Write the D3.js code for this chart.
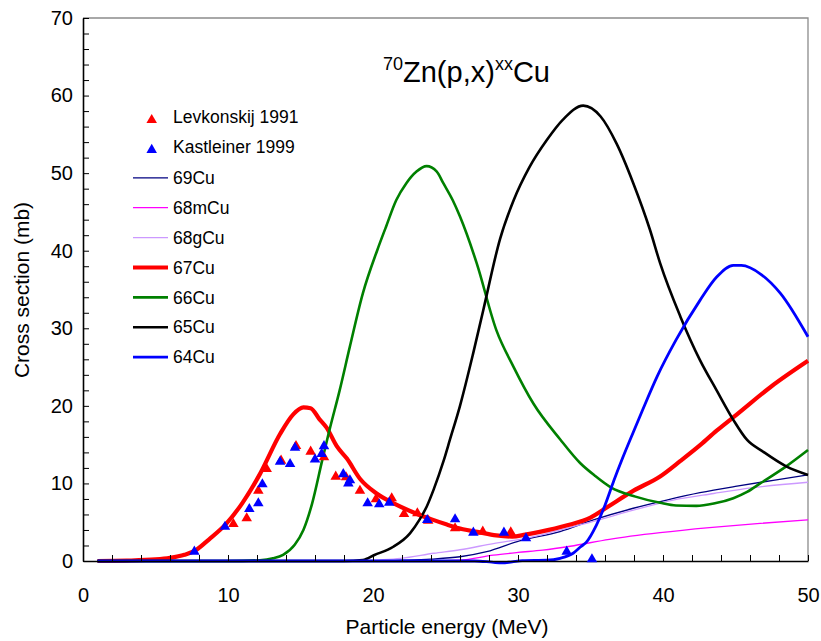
<!DOCTYPE html>
<html>
<head>
<meta charset="utf-8">
<script src="https://cdn.jsdelivr.net/npm/d3@7/dist/d3.min.js"></script>
<style>
  html, body { margin: 0; padding: 0; background: #fff; }
  svg text { font-family: "Liberation Sans", Arial, sans-serif; fill: #000; }
</style>
</head>
<body>
<svg id="chart" width="821" height="641"></svg>
<script>
// ---------------- DATA ----------------
const xTicks = [0, 10, 20, 30, 40, 50];
const yTicks = [0, 10, 20, 30, 40, 50, 60, 70];

// experimental points [energy, cross section]
const levkonskij1991 = [
  [10.37,4.77],[11.29,5.5],[12.09,9.06],[12.67,11.86],[13.66,12.93],[14.69,14.83],[15.7,14.09],
  [16.62,13.37],[17.43,10.87],[18.14,10.79],[19.1,9.06],[20.2,7.95],[21.29,8.08],[22.14,6.06],
  [23.06,6.15],[23.81,5.2],[25.66,4.22],[27.57,3.78],[29.5,3.7]
];
const kastleiner1999 = [
  [7.68,1.2],[9.79,4.42],[11.47,6.7],[12.09,7.44],[12.37,9.89],[13.59,12.8],[14.28,12.5],
  [14.62,14.6],[16.0,13.1],[16.46,13.8],[16.62,14.8],[17.95,11.2],[18.41,10.4],[18.3,10.0],
  [19.63,7.44],[20.43,7.31],[21.12,7.52],[23.74,5.29],[25.66,5.38],[26.92,3.65],[29.03,3.65],
  [30.55,2.93],[33.36,1.2],[35.1,0.22]
];

// calculated excitation functions [energy, cross section]
const cu69 = [[1,0],[20,0],[22,0.1],[24,0.25],[26,0.55],[27.84,1.2],[30.1,2.6],[32.9,3.8],[35.2,5.3],
  [37.95,6.8],[40.25,7.85],[42.55,8.8],[45.1,9.65],[47.6,10.4],[50,11.1]];
const cu68m = [[1,0],[24,0],[26,0.1],[28.3,0.75],[30,1.1],[31.7,1.4],[33.6,1.9],[36.3,2.8],[39.8,3.65],
  [43.2,4.3],[46.7,4.85],[50,5.3]];
const cu68g = [[1,0],[19,0],[20.5,0.15],[21.9,0.35],[24.2,1.0],[26,1.45],[28.3,2.25],[30.6,2.95],[32.9,4.0],
  [35.2,5.1],[37.95,6.55],[40.7,7.85],[43.5,8.7],[46.2,9.45],[50,10.15]];
const cu67 = [[1,0],[3,0.05],[5,0.2],[6,0.4],[7,0.8],[7.7,1.3],[8.7,2.8],[9.9,4.85],[11,7.5],[12.2,11.2],
  [13.6,16.4],[14.5,18.9],[15.2,19.8],[15.7,19.7],[16.3,18.3],[16.8,17.2],[17.5,14.8],[18.2,13.2],[19.1,10.6],
  [20.25,8.7],[21.4,7.45],[23,6.1],[24,5.4],[25.1,4.7],[26.2,4.1],[27.2,3.75],[28.5,3.3],[29.6,3.15],[30.5,3.4],
  [31.5,3.75],[33.4,4.6],[35,5.6],[36.2,7.0],[38,9.1],[39.8,10.9],[41.2,12.9],[42.6,15.0],[43.7,16.8],
  [45.1,18.9],[47.4,22.4],[50,25.8]];
const cu66 = [[1,0],[10,0],[12.2,0.1],[13.1,0.34],[13.8,0.8],[14.6,2.1],[15.2,4.0],[15.8,7.4],[16.5,13],
  [17,16.9],[17.7,22],[18.4,27.6],[19.3,34.5],[20.3,40.1],[20.9,43.1],[21.6,46.5],[22.3,48.7],[23,50.2],
  [23.7,50.9],[24.4,50.2],[24.85,48.7],[25.5,46.5],[26,44.4],[27.15,38.4],[28.5,29.8],[29.7,25],[31.06,20.3],
  [32.9,15.7],[34.3,12.6],[35.3,11],[36.4,9.5],[38.1,8.3],[39.8,7.5],[40.9,7.15],[42.3,7.1],[43.5,7.4],
  [44.85,8.1],[45.8,8.9],[46.7,10.0],[48.5,12.2],[50,14.3]];
const cu65 = [[1,0],[18,0],[19.3,0.13],[20.1,0.77],[21.4,1.84],[22.55,3.57],[23.2,5.3],[23.7,7.0],[24.2,9.3],
  [24.85,12.8],[25.3,15.6],[26,20.0],[26.9,26.7],[27.6,32.3],[28.76,41.5],[29.7,46.5],[30.8,50.8],
  [32,54.3],[33.1,56.9],[34.5,58.7],[35.7,57.3],[36.8,53.8],[37.95,48.7],[39.1,42.7],[39.8,38.4],[41.2,31.5],
  [42.55,25.9],[43.7,22],[44.85,18.2],[45.8,15.6],[46.9,14.1],[48.5,12.2],[50,11.1]];
const cu64 = [[1,0],[27,0],[28.2,-0.15],[28.9,-0.25],[29.6,-0.1],[30.3,0.05],[32,0.1],[32.9,0.35],[33.8,1.0],
  [34.3,1.8],[34.7,2.4],[35.4,4.6],[36.0,7.2],[36.6,10.3],[37.2,13.2],[37.95,16.6],[38.6,19.5],
  [39.6,23.8],[40.9,28.5],[42.55,33.6],[43.7,36.6],[44.85,38.1],[45.4,38.1],[46.8,36.9],[48.1,34.5],[50,28.9]];

const pointSeriesNames = ["Levkonskij 1991", "Kastleiner 1999"];
const lineSeriesNames = ["69Cu", "68mCu", "68gCu", "67Cu", "66Cu", "65Cu", "64Cu"];

// ---------------- STYLES ----------------
const pointColors = ["#FF0000", "#0000FF"];
const lineColors = ["#000080", "#FF00FF", "#CC99FF", "#FF0000", "#008000", "#000000", "#0000FF"];
const lineWidths = [1.3, 1.3, 1.3, 4.2, 2.6, 2.6, 2.8];

const pointData = [levkonskij1991, kastleiner1999];
const lineData = [cu69, cu68m, cu68g, cu67, cu66, cu65, cu64];

// ---------------- CHART ----------------
const svg = d3.select("#chart");
const x = d3.scaleLinear().domain([0, 50]).range([83, 808]);
const y = d3.scaleLinear().domain([0, 70]).range([561, 18]);

// frame (top / right in gray)
svg.append("path")
  .attr("d", `M${x(0)},${y(70)}H${x(50)}V${y(0)}`)
  .attr("fill", "none").attr("stroke", "#8c8c8c").attr("stroke-width", 1.3);

svg.append("defs").append("clipPath").attr("id", "plotclip")
  .append("rect").attr("x", x(0)).attr("y", y(70) - 2).attr("width", x(50) - x(0) + 2).attr("height", y(0) - y(70) + 6);

const line = d3.line().x(d => x(d[0])).y(d => y(d[1])).curve(d3.curveMonotoneX);

const plot = svg.append("g").attr("clip-path", "url(#plotclip)");
lineData.forEach((s, i) => {
  plot.append("path").datum(s)
    .attr("d", line)
    .attr("fill", "none")
    .attr("stroke", lineColors[i])
    .attr("stroke-width", lineWidths[i])
    .attr("stroke-linejoin", "round");
});

// axes
const xAxis = d3.axisBottom(x).tickValues(d3.range(0, 51, 2)).tickSize(-6).tickSizeOuter(0).tickPadding(27)
  .tickFormat(d => xTicks.includes(d) ? d : "");
const gx = svg.append("g").attr("transform", `translate(0,${y(0)})`).call(xAxis);
const yAxis = d3.axisLeft(y).tickValues(d3.range(0, 71, 2)).tickSize(-6).tickSizeOuter(0).tickPadding(10)
  .tickFormat(d => yTicks.includes(d) ? d : "");
const gy = svg.append("g").attr("transform", `translate(${x(0)},0)`).call(yAxis);
[gx, gy].forEach(g => {
  g.select(".domain").attr("stroke", "#000").attr("stroke-width", 1.6);
  g.selectAll(".tick line").attr("stroke", "#000").attr("stroke-width", 1);
  g.selectAll(".tick text").attr("font-size", 20).attr("font-family", "Liberation Sans, Arial, sans-serif");
});

// points
const tri = d3.symbol().type(d3.symbolTriangle).size(48);
pointData.forEach((s, i) => {
  svg.append("g").selectAll("path").data(s).join("path")
    .attr("d", tri)
    .attr("transform", d => `translate(${x(d[0])},${y(d[1])})`)
    .attr("fill", pointColors[i]);
});

// axis titles
svg.append("text").attr("x", 447).attr("y", 634).attr("text-anchor", "middle")
  .attr("font-size", 21).text("Particle energy (MeV)");
svg.append("text").attr("transform", "translate(29,290) rotate(-90)").attr("text-anchor", "middle")
  .attr("font-size", 21).text("Cross section (mb)");

// chart title with superscripts
const t = svg.append("text").attr("x", 383).attr("y", 82).attr("font-size", 29);
t.append("tspan").attr("font-size", 18).attr("dy", -12).text("70");
t.append("tspan").attr("dy", 12).text("Zn(p,x)");
t.append("tspan").attr("font-size", 18).attr("dy", -12).text("xx");
t.append("tspan").attr("dy", 12).text("Cu");

// legend
const legendY0 = 117, legendStep = 29.9;
pointSeriesNames.forEach((name, i) => {
  const yy = legendY0 + i * legendStep;
  svg.append("path").attr("d", tri).attr("transform", `translate(151.7,${yy + 3})`).attr("fill", pointColors[i]);
  svg.append("text").attr("x", 173).attr("y", yy).attr("dy", "0.35em").attr("font-size", 17.5).text(name);
});
lineSeriesNames.forEach((name, i) => {
  const yy = legendY0 + (i + 2) * legendStep + 1;
  svg.append("line").attr("x1", 133).attr("x2", 168).attr("y1", yy).attr("y2", yy)
    .attr("stroke", lineColors[i]).attr("stroke-width", lineWidths[i]);
  svg.append("text").attr("x", 173).attr("y", yy).attr("dy", "0.35em").attr("font-size", 17.5).text(name);
});
</script>
</body>
</html>
